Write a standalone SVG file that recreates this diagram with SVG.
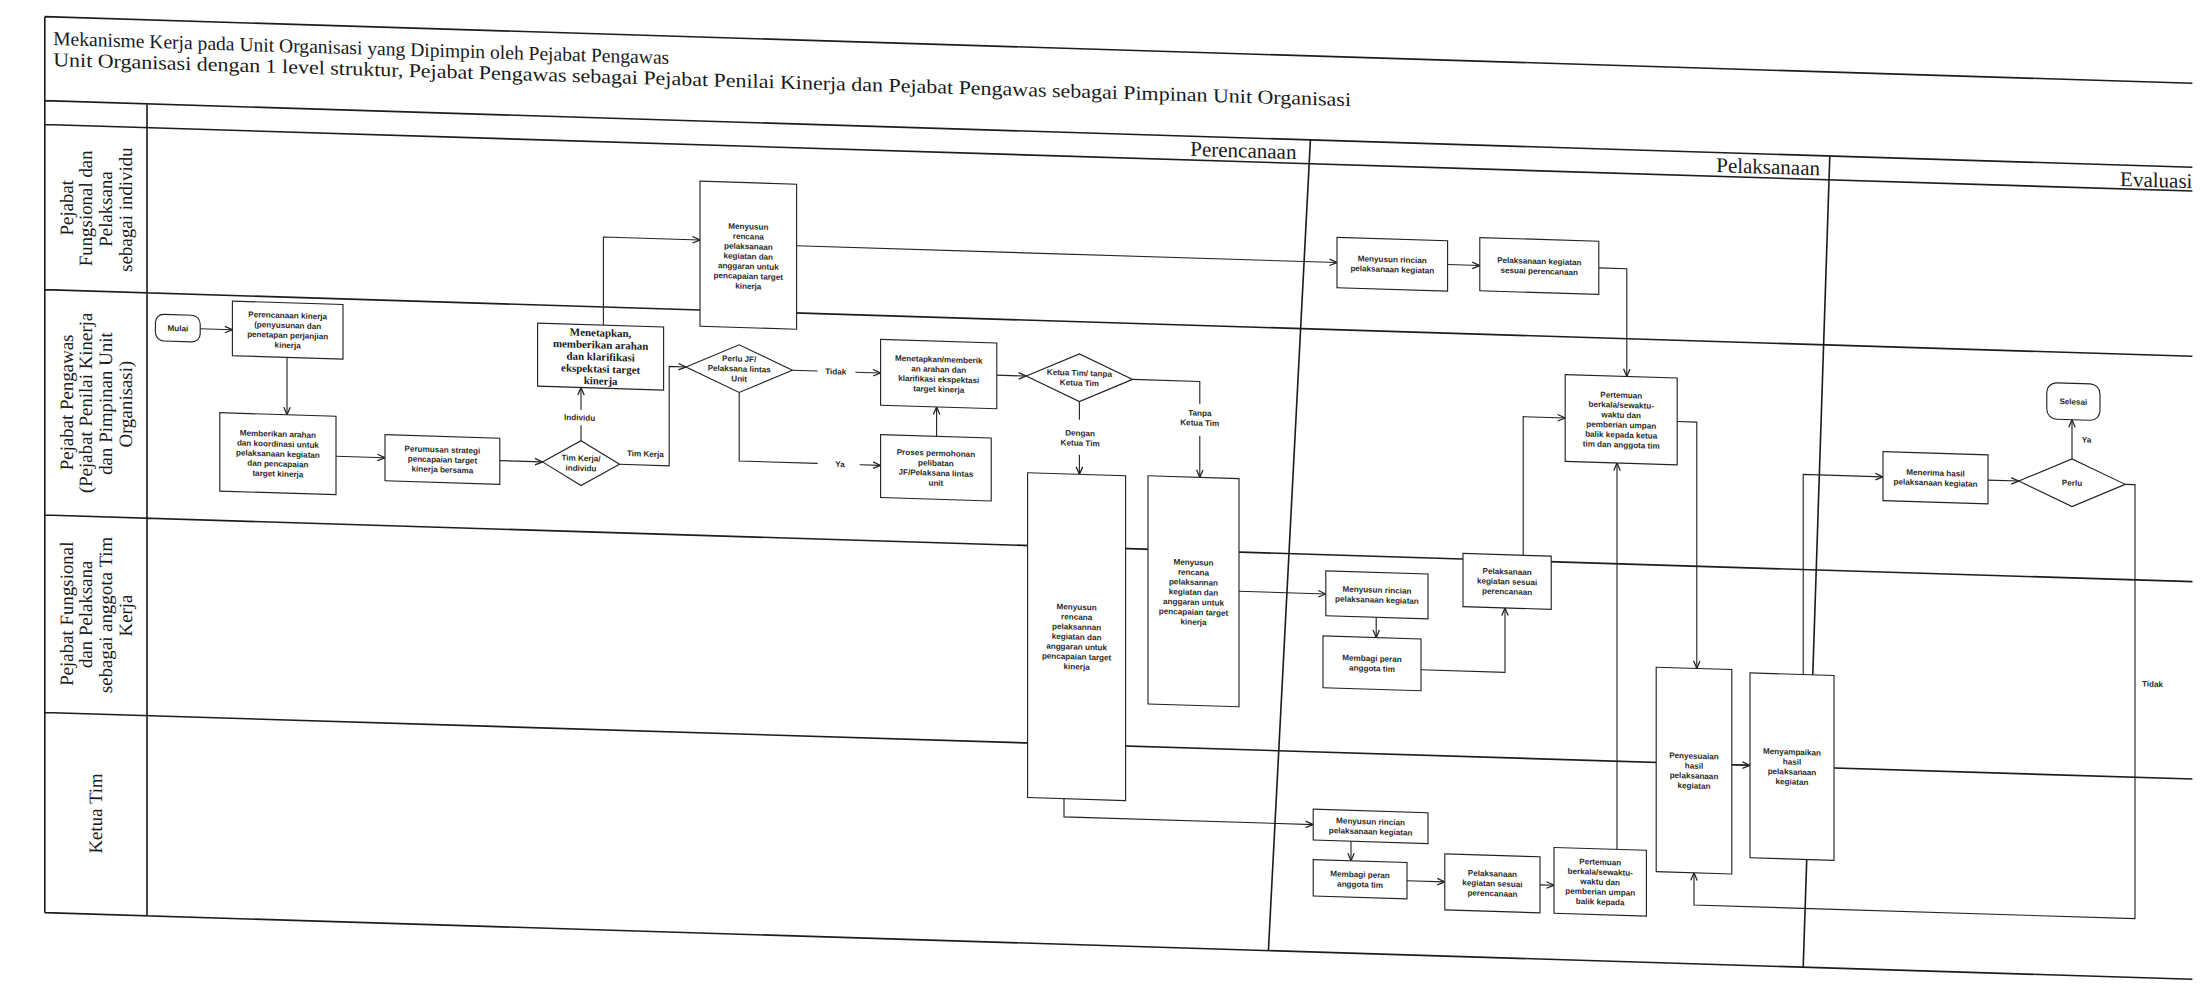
<svg xmlns="http://www.w3.org/2000/svg" width="2200" height="998" viewBox="0 0 2200 998">
<style>
.fr{stroke:#1c1c1c;stroke-width:1.15;fill:none}
.bx{fill:#fff;stroke:#222;stroke-width:0.8}
.t{font-family:"Liberation Sans",Arial,sans-serif;font-size:5.8px;font-weight:bold;fill:#2a2a2a;text-anchor:middle}
.tb{font-family:"Liberation Serif","Times New Roman",serif;font-size:7.8px;font-weight:bold;fill:#1a1a1a;text-anchor:middle}
.ln{font-family:"Liberation Serif","Times New Roman",serif;font-size:13.5px;fill:#1a1a1a;text-anchor:middle}
.ph{font-family:"Liberation Serif","Times New Roman",serif;font-size:15px;fill:#1a1a1a;text-anchor:end}
.ti{font-family:"Liberation Serif","Times New Roman",serif;font-size:14px;fill:#1a1a1a}
.c{stroke:#222;stroke-width:0.8;fill:none}
.a{stroke:#222;stroke-width:0.8;fill:none;marker-end:url(#ah)}
</style>
<defs>
<marker id="ah" viewBox="0 0 6 6" refX="5.8" refY="3" markerWidth="6" markerHeight="6" markerUnits="userSpaceOnUse" orient="auto">
<path d="M0.4,0.7 L5.8,3 L0.4,5.3" fill="none" stroke="#222" stroke-width="0.9"/>
</marker>
</defs>
<rect width="2200" height="998" fill="#fff"/>
<g transform="matrix(1.4 0.0434 0 1.4 0 -1.52)">
<g id="frame">
<path class="fr" d="M32,12 H1566 M32,12 V652 M32,72 H1566 M32,89 H1566 M32,207 H1566 M32,368 H1566 M32,509 H1566 M32,652 H1566 M105,72 V652"/>
<path class="fr" d="M936,72 L906,652 M1307,72 L1288,652"/>
</g>
<g id="title">
<text class="ti" x="38" y="32" textLength="440" lengthAdjust="spacingAndGlyphs">Mekanisme Kerja pada Unit Organisasi yang Dipimpin oleh Pejabat Pengawas</text>
<text class="ti" x="38" y="47" textLength="927" lengthAdjust="spacingAndGlyphs">Unit Organisasi dengan 1 level struktur, Pejabat Pengawas sebagai Pejabat Penilai Kinerja dan Pejabat Pengawas sebagai Pimpinan Unit Organisasi</text>
</g>
<g id="phases">
<text class="ph" x="926" y="86">Perencanaan</text>
<text class="ph" x="1300" y="86">Pelaksanaan</text>
<text class="ph" x="1566" y="87">Evaluasi</text>
</g>
<g id="lanes">
<text class="ln" transform="translate(0,148) rotate(-90)"><tspan x="0" y="52">Pejabat</tspan><tspan x="0" y="66">Fungsional dan</tspan><tspan x="0" y="80">Pelaksana</tspan><tspan x="0" y="94">sebagai individu</tspan></text>
<text class="ln" transform="translate(0,287) rotate(-90)"><tspan x="0" y="52">Pejabat Pengawas</tspan><tspan x="0" y="66">(Pejabat Penilai Kinerja</tspan><tspan x="0" y="80">dan Pimpinan Unit</tspan><tspan x="0" y="94">Organisasi)</tspan></text>
<text class="ln" transform="translate(0,438) rotate(-90)"><tspan x="0" y="52">Pejabat Fungsional</tspan><tspan x="0" y="66">dan Pelaksana</tspan><tspan x="0" y="80">sebagai anggota Tim</tspan><tspan x="0" y="94">Kerja</tspan></text>
<text class="ln" transform="translate(0,580) rotate(-90)"><tspan x="0" y="73">Ketua Tim</tspan></text>
</g>
<g id="connectors">
<path class="a" d="M143,231.5 H166"/>
<path class="a" d="M205,250 V291"/>
<path class="a" d="M240,319.5 H275"/>
<path class="a" d="M357,319 H387.5"/>
<path class="c" d="M415,303 V292"/>
<path class="a" d="M415,281 V265"/>
<path class="a" d="M431,220 V157 H500"/>
<path class="a" d="M442.5,319 H478 V248 H490"/>
<path class="c" d="M566,248 H584"/>
<path class="a" d="M611,248 H629"/>
<path class="c" d="M528,265 V314 H584"/>
<path class="a" d="M614,314 H629"/>
<path class="a" d="M669,292 V271"/>
<path class="a" d="M712,247 H733"/>
<path class="c" d="M771,264 V277"/>
<path class="a" d="M771,302 V316"/>
<path class="c" d="M809,247 H857 V263"/>
<path class="a" d="M857,286 V315.5"/>
<path class="a" d="M569,159 H955"/>
<path class="a" d="M1034,158 H1057"/>
<path class="a" d="M1142,157 H1162 V234"/>
<path class="a" d="M885,396 H947"/>
<path class="a" d="M983,411.5 V426"/>
<path class="a" d="M1015,448 H1075 V402"/>
<path class="a" d="M1088,364 V265 H1118"/>
<path class="a" d="M760,548 V561 H938"/>
<path class="a" d="M965,572 V586"/>
<path class="a" d="M1005,599 H1032"/>
<path class="a" d="M1100,599 H1110"/>
<path class="a" d="M1155,572 V296"/>
<path class="a" d="M1198,265 H1212 V441"/>
<path class="a" d="M1237,509 H1250"/>
<path class="a" d="M1288,443 V300 H1345"/>
<path class="a" d="M1420,300 H1442"/>
<path class="a" d="M1480,283 V255"/>
<path class="a" d="M1518,300 H1525 V610 H1210 V587"/>
<text class="t" x="414" y="288.5">Individu</text>
<text class="t" x="461" y="313">Tim Kerja</text>
<text class="t" x="597" y="250">Tidak</text>
<text class="t" x="600" y="316">Ya</text>
<text class="t" x="771.5" y="288.5">Dengan<tspan x="771.5" dy="7.1">Ketua Tim</tspan></text>
<text class="t" x="857" y="271.5">Tanpa<tspan x="857" dy="7.1">Ketua Tim</tspan></text>
<text class="t" x="1487" y="271" style="text-anchor:start">Ya</text>
<text class="t" x="1530" y="444" style="text-anchor:start">Tidak</text>
</g>
<g id="n-mulai"><rect class="bx" x="111" y="222" width="32" height="19" rx="6"/><text class="t" x="127" y="233.6">Mulai</text></g>
<g id="n-perencanaan"><rect class="bx" x="166" y="211" width="79" height="39"/><text class="t" x="205.5" y="222"><tspan x="205.5">Perencanaan kinerja</tspan><tspan x="205.5" dy="7.1">(penyusunan dan</tspan><tspan x="205.5" dy="7.1">penetapan perjanjian</tspan><tspan x="205.5" dy="7.1">kinerja</tspan></text></g>
<g id="n-memberikan"><rect class="bx" x="157" y="291" width="83" height="56"/><text class="t" x="198.5" y="306.9"><tspan x="198.5">Memberikan arahan</tspan><tspan x="198.5" dy="7.1">dan koordinasi untuk</tspan><tspan x="198.5" dy="7.1">pelaksanaan kegiatan</tspan><tspan x="198.5" dy="7.1">dan pencapaian</tspan><tspan x="198.5" dy="7.1">target kinerja</tspan></text></g>
<g id="n-perumusan"><rect class="bx" x="275" y="303" width="82" height="33"/><text class="t" x="316" y="314.5"><tspan x="316">Perumusan strategi</tspan><tspan x="316" dy="7.1">pencapaian target</tspan><tspan x="316" dy="7.1">kinerja bersama</tspan></text></g>
<g id="d-timkerja"><path class="bx" d="M387.5,319 L415,303 L442.5,319 L415,335 Z"/><text class="t" x="415" y="317.5"><tspan x="415">Tim Kerja/</tspan><tspan x="415" dy="7.1">individu</tspan></text></g>
<g id="n-menetapkan"><rect class="bx" x="384" y="220" width="90" height="45"/><text class="tb" x="429" y="228.1"><tspan x="429">Menetapkan,</tspan><tspan x="429" dy="8.6">memberikan arahan</tspan><tspan x="429" dy="8.6">dan klarifikasi</tspan><tspan x="429" dy="8.6">ekspektasi target</tspan><tspan x="429" dy="8.6">kinerja</tspan></text></g>
<g id="n-menyusun-individu"><rect class="bx" x="500" y="115" width="69" height="103.6"/><text class="t" x="534.5" y="148.3"><tspan x="534.5">Menyusun</tspan><tspan x="534.5" dy="7.1">rencana</tspan><tspan x="534.5" dy="7.1">pelaksanaan</tspan><tspan x="534.5" dy="7.1">kegiatan dan</tspan><tspan x="534.5" dy="7.1">anggaran untuk</tspan><tspan x="534.5" dy="7.1">pencapaian target</tspan><tspan x="534.5" dy="7.1">kinerja</tspan></text></g>
<g id="d-perlu-jf"><path class="bx" d="M490,248 L528,231 L566,248 L528,265 Z"/><text class="t" x="528" y="243"><tspan x="528">Perlu JF/</tspan><tspan x="528" dy="7.1">Pelaksana lintas</tspan><tspan x="528" dy="7.1">Unit</tspan></text></g>
<g id="n-menetapkan2"><rect class="bx" x="629" y="224" width="83" height="47"/><text class="t" x="670.5" y="239"><tspan x="670.5">Menetapkan/memberik</tspan><tspan x="670.5" dy="7.1">an arahan dan</tspan><tspan x="670.5" dy="7.1">klarifikasi ekspektasi</tspan><tspan x="670.5" dy="7.1">target kinerja</tspan></text></g>
<g id="n-proses"><rect class="bx" x="629" y="292" width="79" height="45"/><text class="t" x="668.5" y="306"><tspan x="668.5">Proses permohonan</tspan><tspan x="668.5" dy="7.1">pelibatan</tspan><tspan x="668.5" dy="7.1">JF/Pelaksana lintas</tspan><tspan x="668.5" dy="7.1">unit</tspan></text></g>
<g id="d-ketua"><path class="bx" d="M733,247 L771,230 L809,247 L771,264 Z"/><text class="t" x="771" y="245.6"><tspan x="771">Ketua Tim/ tanpa</tspan><tspan x="771" dy="7.1">Ketua Tim</tspan></text></g>
<g id="n-menyusun-dengan"><rect class="bx" x="734" y="316" width="70" height="232"/><text class="t" x="769" y="412.8"><tspan x="769">Menyusun</tspan><tspan x="769" dy="7.1">rencana</tspan><tspan x="769" dy="7.1">pelaksannan</tspan><tspan x="769" dy="7.1">kegiatan dan</tspan><tspan x="769" dy="7.1">anggaran untuk</tspan><tspan x="769" dy="7.1">pencapaian target</tspan><tspan x="769" dy="7.1">kinerja</tspan></text></g>
<g id="n-menyusun-tanpa"><rect class="bx" x="820" y="315.5" width="65" height="163"/><text class="t" x="852.5" y="378.3"><tspan x="852.5">Menyusun</tspan><tspan x="852.5" dy="7.1">rencana</tspan><tspan x="852.5" dy="7.1">pelaksannan</tspan><tspan x="852.5" dy="7.1">kegiatan dan</tspan><tspan x="852.5" dy="7.1">anggaran untuk</tspan><tspan x="852.5" dy="7.1">pencapaian target</tspan><tspan x="852.5" dy="7.1">kinerja</tspan></text></g>
<g id="n-rincian-1"><rect class="bx" x="955" y="141" width="79" height="36"/><text class="t" x="994.5" y="157.6"><tspan x="994.5">Menyusun rincian</tspan><tspan x="994.5" dy="7.1">pelaksanaan kegiatan</tspan></text></g>
<g id="n-pelaksanaan-1"><rect class="bx" x="1057" y="138" width="85" height="38"/><text class="t" x="1099.5" y="155.6"><tspan x="1099.5">Pelaksanaan kegiatan</tspan><tspan x="1099.5" dy="7.1">sesuai perencanaan</tspan></text></g>
<g id="n-pertemuan-2"><rect class="bx" x="1118" y="234" width="80" height="62"/><text class="t" x="1158" y="249.4"><tspan x="1158">Pertemuan</tspan><tspan x="1158" dy="7.1">berkala/sewaktu-</tspan><tspan x="1158" dy="7.1">waktu dan</tspan><tspan x="1158" dy="7.1">pemberian umpan</tspan><tspan x="1158" dy="7.1">balik kepada ketua</tspan><tspan x="1158" dy="7.1">tim dan anggota tim</tspan></text></g>
<g id="n-rincian-3"><rect class="bx" x="947" y="379.5" width="73" height="32"/><text class="t" x="983.5" y="394"><tspan x="983.5">Menyusun rincian</tspan><tspan x="983.5" dy="7.1">pelaksanaan kegiatan</tspan></text></g>
<g id="n-membagi-3"><rect class="bx" x="945" y="426" width="70" height="37"/><text class="t" x="980" y="443"><tspan x="980">Membagi peran</tspan><tspan x="980" dy="7.1">anggota tim</tspan></text></g>
<g id="n-pelaksanaan-3"><rect class="bx" x="1045" y="364" width="63" height="38"/><text class="t" x="1076.5" y="378"><tspan x="1076.5">Pelaksanaan</tspan><tspan x="1076.5" dy="7.1">kegiatan sesuai</tspan><tspan x="1076.5" dy="7.1">perencanaan</tspan></text></g>
<g id="n-penyesuaian"><rect class="bx" x="1183" y="441" width="54" height="146"/><text class="t" x="1210" y="505.5"><tspan x="1210">Penyesuaian</tspan><tspan x="1210" dy="7.1">hasil</tspan><tspan x="1210" dy="7.1">pelaksanaan</tspan><tspan x="1210" dy="7.1">kegiatan</tspan></text></g>
<g id="n-menyampaikan"><rect class="bx" x="1250" y="443" width="60" height="132"/><text class="t" x="1280" y="500.5"><tspan x="1280">Menyampaikan</tspan><tspan x="1280" dy="7.1">hasil</tspan><tspan x="1280" dy="7.1">pelaksanaan</tspan><tspan x="1280" dy="7.1">kegiatan</tspan></text></g>
<g id="n-menerima"><rect class="bx" x="1345" y="282" width="75" height="35"/><text class="t" x="1382.5" y="298"><tspan x="1382.5">Menerima hasil</tspan><tspan x="1382.5" dy="7.1">pelaksanaan kegiatan</tspan></text></g>
<g id="d-perlu"><path class="bx" d="M1442,300 L1480,283 L1518,300 L1480,317 Z"/><text class="t" x="1480" y="302.1">Perlu</text></g>
<g id="n-selesai"><rect class="bx" x="1462" y="229" width="38" height="26" rx="7"/><text class="t" x="1481" y="244.1">Selesai</text></g>
<g id="n-rincian-4"><rect class="bx" x="938" y="550" width="82" height="22"/><text class="t" x="979" y="559.6"><tspan x="979">Menyusun rincian</tspan><tspan x="979" dy="7.1">pelaksanaan kegiatan</tspan></text></g>
<g id="n-membagi-4"><rect class="bx" x="938" y="586" width="67" height="26"/><text class="t" x="971.5" y="597.6"><tspan x="971.5">Membagi peran</tspan><tspan x="971.5" dy="7.1">anggota tim</tspan></text></g>
<g id="n-pelaksanaan-4"><rect class="bx" x="1032" y="579" width="68" height="40"/><text class="t" x="1066" y="594"><tspan x="1066">Pelaksanaan</tspan><tspan x="1066" dy="7.1">kegiatan sesuai</tspan><tspan x="1066" dy="7.1">perencanaan</tspan></text></g>
<g id="n-pertemuan-4"><rect class="bx" x="1110" y="572" width="66" height="47"/><text class="t" x="1143" y="583.4"><tspan x="1143">Pertemuan</tspan><tspan x="1143" dy="7.1">berkala/sewaktu-</tspan><tspan x="1143" dy="7.1">waktu dan</tspan><tspan x="1143" dy="7.1">pemberian umpan</tspan><tspan x="1143" dy="7.1">balik kepada</tspan></text></g>
</g>
</svg>
